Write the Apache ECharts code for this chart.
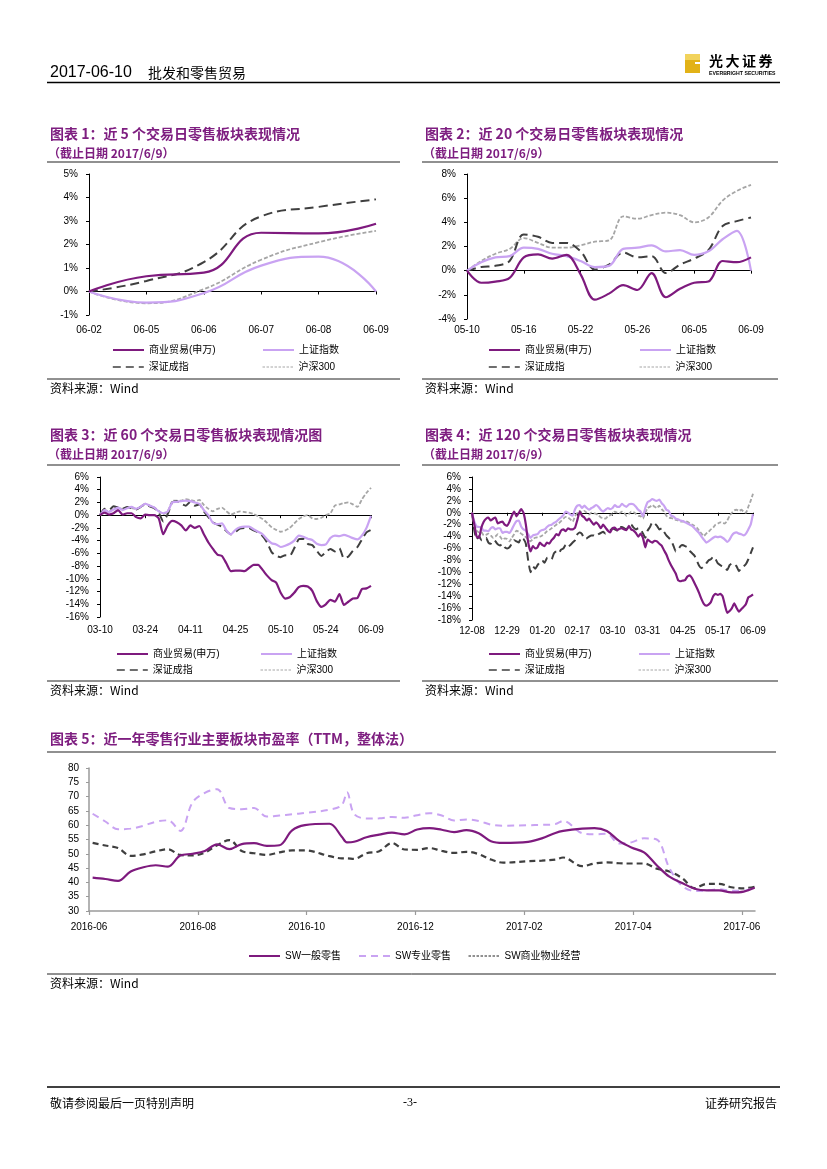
<!DOCTYPE html>
<html><head><meta charset="utf-8">
<script src="https://cdn.jsdelivr.net/npm/echarts@6/dist/echarts.min.js"></script>
<style>html,body{margin:0;padding:0;background:#fff}#c{width:827px;height:1169px}</style>
</head><body><div id="c"></div>
<script>
// ---------- DATA ----------
const tradeDates = ['12-08','12-09','12-12','12-13','12-14','12-15','12-16','12-19','12-20','12-21','12-22','12-23','12-26','12-27','12-28','12-29','12-30',
'01-03','01-04','01-05','01-06','01-09','01-10','01-11','01-12','01-13','01-16','01-17','01-18','01-19','01-20','01-23','01-24','01-25','01-26',
'02-03','02-06','02-07','02-08','02-09','02-10','02-13','02-14','02-15','02-16','02-17','02-20','02-21','02-22','02-23','02-24','02-27','02-28',
'03-01','03-02','03-03','03-06','03-07','03-08','03-09','03-10','03-13','03-14','03-15','03-16','03-17','03-20','03-21','03-22','03-23','03-24','03-27','03-28','03-29','03-30','03-31',
'04-05','04-06','04-07','04-10','04-11','04-12','04-13','04-14','04-17','04-18','04-19','04-20','04-21','04-24','04-25','04-26','04-27','04-28',
'05-02','05-03','05-04','05-05','05-08','05-09','05-10','05-11','05-12','05-15','05-16','05-17','05-18','05-19','05-22','05-23','05-24','05-25','05-26','05-31',
'06-01','06-02','06-05','06-06','06-07','06-08','06-09'];
const cat1 = tradeDates.slice(115);
const cat2 = tradeDates.slice(100);
const cat3 = tradeDates.slice(60);
const cat4 = tradeDates;

const seriesNames = ['商业贸易(申万)','上证指数','深证成指','沪深300'];

// chart 1 (5 days)
const c1Trade = [0, 0.65, 0.8, 2.5, 2.47, 2.88];
const c1Sh    = [0, -0.47, -0.07, 1.1, 1.48, 0];
const c1Sz    = [0, 0.45, 1.25, 3.2, 3.6, 3.92];
const c1Hs    = [0, -0.5, 0.1, 1.35, 2.1, 2.58];

// chart 2 (20 days)
const c2Trade = [0,-1.0,-0.9,-0.6,1.1,1.35,1.0,1.3,-0.3,-2.4,-1.9,-1.2,-1.6,-0.2,-2.2,-1.5,-1.0,-0.9,0.8,0.7,1.1];
const c2Sh    = [0,0.7,1.1,1.2,1.9,1.8,1.4,1.2,0.8,0.3,0.4,1.8,1.9,2.1,1.6,1.7,1.3,1.6,2.6,3.3,0];
const c2Sz    = [0,0.3,0.4,0.8,3.0,2.8,2.3,2.3,1.6,0.1,0.5,1.5,1.1,1.2,-0.2,0.5,1.0,1.7,3.7,4.1,4.4];
const c2Hs    = [0,0.8,1.4,1.8,2.7,2.3,1.9,1.9,2.1,2.4,2.5,4.5,4.3,4.6,4.8,4.6,4.0,4.4,5.8,6.6,7.1];

// chart 3 (60 days)
const c3Trade = [0,0.4,0.1,0.3,0.8,0.1,0.3,0.3,-0.3,-0.5,
0.1,0,0,-0.5,-3.0,-1.6,-0.9,-1.1,-1.6,-2.4,
-1.6,-2.0,-1.7,-3.0,-4.3,-5.3,-6.2,-6.4,-7.6,-8.8,
-8.7,-8.7,-8.8,-8.3,-7.8,-7.8,-8.6,-9.5,-10.2,-10.6,
-12.2,-13.1,-12.9,-12.2,-11.3,-11.1,-11.2,-11.9,-13.5,-14.4,
-14.0,-13.3,-13.6,-12.4,-14.1,-13.6,-13.1,-13.0,-11.6,-11.5,
-11.1];
const c3Sh = [0,0.8,0.5,0.9,1.2,0.8,1.1,1.3,1.0,1.3,
1.8,1.5,1.2,0.6,0.3,0.6,2.0,2.1,2.2,2.3,
2.2,2.0,1.8,0.8,0.0,-1.2,-1.4,-1.3,-2.4,-3.0,
-2.3,-1.9,-1.8,-1.8,-2.2,-2.6,-3.0,-3.8,-4.4,-4.6,
-5.0,-4.8,-4.5,-4.0,-3.2,-3.4,-3.7,-3.9,-4.5,-4.7,
-4.6,-3.6,-3.2,-3.3,-3.1,-3.3,-3.6,-3.8,-3.2,-2.0,
-0.1];
const c3Sz = [0,1.0,0.8,1.4,1.2,1.0,1.3,1.1,0.9,1.3,
1.7,1.4,1.1,0.4,-1.0,0.2,2.0,2.2,1.8,1.5,
2.1,1.5,1.7,0.6,-0.3,-1.1,-1.5,-1.8,-2.5,-3.0,
-2.6,-2.1,-2.0,-2.0,-2.4,-2.7,-3.3,-4.3,-5.8,-6.4,
-6.6,-6.3,-6.4,-5.2,-3.8,-3.7,-4.5,-4.7,-5.6,-6.4,
-5.8,-5.3,-5.7,-5.2,-6.8,-6.5,-5.6,-5.0,-3.8,-2.7,
-2.3];
const c3Hs = [0,0.8,0.6,1.0,1.3,0.9,1.2,1.1,1.0,1.3,
1.8,1.5,1.2,0.7,0.2,0.6,2.2,2.3,2.3,2.5,
2.4,2.2,2.4,1.6,1.0,0.6,1.0,1.2,0.6,0.1,
0.4,0.6,0.5,0.4,0.2,-0.2,-0.6,-1.2,-1.9,-2.3,
-2.6,-2.4,-2.0,-1.3,-0.6,-0.2,0.0,-0.5,-0.6,-0.4,
0.0,0.3,1.5,1.7,1.9,2.0,1.7,1.3,2.5,3.5,
4.3];

// chart 4 (120 days)
const c4Trade = [0,-2.0,-4.0,-4.2,-2.5,-1.5,-1.0,-0.8,-1.3,-1.0,
-0.8,-1.8,-1.6,-1.5,-2.0,-2.2,-1.5,-0.5,0.2,-0.6,
0.0,0.6,0.0,-2.0,-5.0,-6.5,-5.6,-6.0,-5.8,-5.0,
-5.4,-5.6,-5.0,-5.2,-4.6,-4.2,-3.6,-3.8,-3.0,-2.8,
-3.1,-2.6,-2.8,-2.8,-2.5,-1.2,0.2,-0.5,-0.8,-1.3,
-1.0,-1.5,-2.0,-1.6,-2.0,-2.6,-2.0,-2.5,-3.0,-3.3,
-2.6,-2.5,-2.9,-2.7,-2.6,-2.8,-2.9,-2.2,-2.8,-3.0,
-3.4,-4.0,-3.5,-4.2,-5.8,-4.5,-4.8,-5.0,-4.7,-4.8,
-5.2,-5.5,-6.3,-7.0,-8.0,-8.8,-9.5,-10.2,-11.3,-11.5,
-11.4,-11.3,-10.7,-10.5,-11.0,-11.8,-12.6,-13.5,-14.5,-15.3,
-15.6,-15.4,-15.0,-14.0,-13.6,-13.8,-13.6,-14.0,-15.5,-16.8,
-16.5,-16.0,-15.2,-16.0,-16.6,-16.2,-15.8,-15.3,-14.2,-14.0,
-13.7];
const c4Sh = [0,-1.5,-2.3,-2.4,-2.5,-3.0,-3.0,-3.1,-2.6,-2.4,
-2.8,-2.6,-2.6,-3.4,-3.2,-3.2,-3.4,-2.8,-2.0,-1.4,
-1.3,-2.3,-2.8,-3.0,-3.6,-4.2,-3.8,-3.7,-3.6,-3.1,
-2.9,-2.8,-2.4,-2.1,-2.0,-1.7,-1.5,-1.1,-0.8,-0.4,
0.2,0.0,-0.3,-0.5,0.6,1.2,1.3,0.8,1.2,0.8,
0.5,0.8,1.0,1.3,1.0,0.5,0.2,0.5,0.8,0.6,
0.8,1.3,1.0,1.0,1.5,1.2,1.0,1.4,1.5,1.4,
1.0,0.5,0.2,-0.6,0.8,1.8,2.0,2.3,2.1,2.0,
2.2,1.6,1.2,0.5,0.3,-0.5,-0.6,-1.0,-1.1,-1.3,
-1.4,-1.6,-1.8,-2.0,-2.2,-2.6,-3.0,-3.4,-4.0,-4.5,
-5.0,-4.8,-4.5,-4.2,-4.0,-4.1,-4.0,-4.2,-4.5,-4.9,
-4.5,-3.8,-3.4,-3.3,-3.5,-3.6,-3.8,-3.5,-2.8,-2.0,
-0.2];
const c4Sz = [0,-3.0,-4.5,-3.9,-4.6,-4.6,-4.2,-5.0,-5.2,-4.6,
-4.8,-5.3,-5.5,-5.2,-5.8,-6.0,-5.8,-5.2,-4.6,-4.8,
-5.0,-4.1,-4.4,-5.2,-8.0,-10.0,-9.0,-9.4,-8.8,-8.3,
-8.0,-8.4,-7.6,-7.5,-7.8,-6.8,-6.5,-6.8,-6.2,-6.0,
-5.4,-5.8,-5.4,-5.0,-4.6,-3.6,-3.3,-3.6,-4.4,-4.3,
-4.0,-3.8,-3.8,-4.0,-3.6,-3.4,-3.2,-3.5,-3.2,-3.0,
-2.6,-2.8,-3.0,-2.4,-2.4,-2.6,-2.8,-2.2,-2.0,-2.5,
-2.8,-2.6,-2.8,-3.5,-4.2,-3.0,-2.4,-1.6,-1.8,-2.2,
-2.8,-2.6,-3.2,-3.8,-4.2,-4.6,-5.5,-6.5,-6.2,-5.6,
-5.4,-5.6,-5.8,-6.4,-6.8,-7.2,-8.0,-8.9,-9.3,-9.0,
-8.5,-8.0,-7.8,-7.4,-7.8,-8.5,-8.8,-9.0,-9.3,-9.6,
-8.8,-8.5,-8.6,-9.0,-9.8,-9.3,-9.0,-8.6,-7.8,-6.8,
-5.8];
const c4Hs = [0,-1.8,-3.0,-3.3,-3.2,-3.8,-3.7,-3.5,-3.8,-4.2,
-4.0,-3.6,-4.0,-4.5,-4.3,-4.4,-4.8,-4.2,-3.6,-3.0,
-3.2,-3.5,-3.8,-4.1,-4.5,-4.8,-4.4,-4.2,-4.1,-4.0,
-3.8,-3.5,-3.1,-2.9,-2.6,-2.3,-2.0,-1.8,-1.4,-1.0,
-0.7,-0.8,-1.1,-1.5,-0.6,0.0,0.3,0.0,0.3,0.0,
-0.3,0.0,-0.1,-0.2,-0.4,-0.8,-0.9,-1.0,-0.6,-0.4,
-0.2,0.2,0.0,-0.1,0.2,0.0,-0.5,-0.2,0.2,0.1,
-0.2,-0.5,-0.6,-1.0,0.0,0.8,1.0,1.3,1.0,0.8,
1.2,0.6,0.2,-0.5,-0.8,-0.9,-1.0,-1.2,-1.3,-1.5,
-1.5,-1.4,-1.5,-1.8,-2.0,-2.2,-2.5,-3.0,-3.5,-3.9,
-3.5,-3.2,-2.8,-2.5,-2.0,-1.8,-1.6,-1.7,-1.8,-1.3,
-0.5,0.0,0.4,0.5,0.3,0.5,0.2,0.0,1.0,2.0,
3.2];

// chart 5 (PE TTM)
const peNames = ['SW一般零售','SW专业零售','SW商业物业经营'];
const peDates = ['2016-06-03','2016-06-10','2016-06-17','2016-06-24','2016-07-01','2016-07-08','2016-07-15','2016-07-22','2016-07-29',
'2016-08-05','2016-08-12','2016-08-19','2016-08-26','2016-09-02','2016-09-09','2016-09-16','2016-09-23','2016-09-30',
'2016-10-14','2016-10-21','2016-10-24','2016-10-28','2016-11-04','2016-11-11','2016-11-18','2016-11-25',
'2016-12-02','2016-12-09','2016-12-16','2016-12-23','2016-12-30','2017-01-06','2017-01-13','2017-01-20',
'2017-02-03','2017-02-10','2017-02-17','2017-02-21','2017-03-03','2017-03-10','2017-03-17','2017-03-24','2017-03-31',
'2017-04-07','2017-04-14','2017-04-21','2017-04-28','2017-05-05','2017-05-12','2017-05-19','2017-05-26','2017-06-02','2017-06-08'];
const peGeneral  = [41.7,41.2,40.5,43.8,45.3,46.0,45.5,49.4,50.0,51.0,53.3,51.6,53.4,53.7,52.8,53.0,58.2,60.0,
60.5,56.0,54.0,54.2,55.8,56.7,57.4,56.8,58.5,59.0,58.4,57.6,58.3,57.2,54.4,53.8,
54.2,55.4,57.3,58.0,58.8,59.0,58.0,54.5,52.2,50.5,46.0,42.0,39.8,37.8,37.2,37.2,36.5,36.8,38.1];
const peSpecial  = [64.0,61.3,58.6,58.8,59.8,61.2,61.7,58.0,68.0,71.3,72.6,66.0,65.6,66.0,63.0,63.4,63.8,64.3,
65.4,67.0,71.5,64.0,62.3,62.4,62.9,62.6,63.5,64.2,63.4,61.6,62.0,61.5,60.2,59.8,
60.0,60.1,60.4,61.5,57.2,56.8,57.0,53.6,54.0,55.4,55.0,45.0,38.8,37.0,37.2,37.6,37.1,37.1,38.3];
const peProperty = [53.8,52.9,52.0,49.3,49.8,50.9,51.6,49.6,49.4,50.4,53.0,54.8,51.0,50.2,49.6,50.5,51.2,51.2,
49.2,48.4,48.4,48.2,50.2,50.9,53.8,51.5,51.4,52.0,51.0,50.3,50.7,49.9,48.0,46.9,
47.4,47.6,48.0,48.7,45.7,46.6,47.0,46.7,46.6,46.6,44.8,43.8,41.5,38.0,39.5,39.5,38.3,37.9,38.5];
const peMonthTicks = [0,2,4,6,8,10,12];

// ---------- STYLES ----------
const PURPLE = '#7E1A7E', LILAC = '#C9A3F2', DARK = '#3F3F3F', GREY = '#A6A6A6', TITLE = '#7E1E80';
const LAT = '"Liberation Sans", Arial, "Noto Sans CJK SC"';
const CJK = '"Noto Sans CJK SC", "Liberation Sans"';
const ST = {
  trade: {color: PURPLE, width: 2.2, type: 'solid'},
  sh:    {color: LILAC,  width: 2.2, type: 'solid'},
  sz:    {color: DARK,   width: 2,   type: [9, 5]},
  hs:    {color: GREY,   width: 1.8, type: [4, 2]}
};

function monthPos(s) {
  const p = s.split('-').map(Number);
  const dim = new Date(p[0], p[1], 0).getDate();
  return (p[0] - 2016) * 12 + (p[1] - 6) + (p[2] - 1) / dim;
}

// grids in page pixels
const grids = [
  {left: 89,  top: 174, width: 287, height: 141},
  {left: 467, top: 174, width: 284, height: 145},
  {left: 100, top: 477, width: 271, height: 140},
  {left: 472, top: 477, width: 281, height: 143},
  {left: 89,  top: 768, width: 666, height: 143}
];

const xAxes = [], yAxes = [], series = [], legends = [];

function catAxes(gi, cats, interval, margin) {
  xAxes.push({gridIndex: gi, type: 'category', data: cats, boundaryGap: false, position: 'bottom',
    axisLine: {show: false, onZero: false}, axisTick: {show: false},
    axisLabel: {interval: interval, fontSize: 10, color: '#000', fontFamily: LAT, margin: margin}});
  xAxes.push({gridIndex: gi, type: 'category', data: cats, boundaryGap: false, position: 'bottom',
    axisLine: {show: true, onZero: true, lineStyle: {color: '#000', width: 1}},
    axisTick: {show: true, interval: interval, length: 3, lineStyle: {color: '#000'}},
    axisLabel: {show: false}});
  return xAxes.length - 2;
}
function yAx(gi, min, max, interval, pct, color, margin) {
  yAxes.push({gridIndex: gi, type: 'value', min: min, max: max, interval: interval,
    axisLine: {show: true, lineStyle: {color: color, width: 1}},
    axisTick: {show: true, length: 3, lineStyle: {color: color}},
    splitLine: {show: false},
    axisLabel: {formatter: pct ? '{value}%' : '{value}', fontSize: 10, color: '#000', fontFamily: LAT, margin: margin}});
  return yAxes.length - 1;
}
function mk(name, data, xi, yi, st, smooth) {
  series.push({type: 'line', name: name, data: data, xAxisIndex: xi, yAxisIndex: yi, symbol: 'none',
    smooth: smooth, lineStyle: {color: st.color, width: st.width, type: st.type}, itemStyle: {color: st.color}});
}
const HIDDEN_SYMBOL = {opacity: 0, color: 'rgba(0,0,0,0)', borderColor: 'rgba(0,0,0,0)', borderWidth: 0};
function legendItem(item, left, cy) {
  item.itemStyle = HIDDEN_SYMBOL;
  legends.push({data: [item], left: left, top: cy - 7, padding: 0, itemWidth: 31, itemHeight: 8,
    selectedMode: false, itemStyle: HIDDEN_SYMBOL,
    textStyle: {fontSize: 10, color: '#000', fontFamily: LAT}});
}
function legends4(l1, l2, cy1, cy2) {
  legendItem({name: seriesNames[0]}, l1, cy1);
  legendItem({name: seriesNames[1]}, l2, cy1);
  legendItem({name: seriesNames[2], lineStyle: {width: 1.6, type: [8, 5]}}, l1, cy2);
  legendItem({name: seriesNames[3], lineStyle: {width: 1, type: [2.5, 1.5]}}, l2, cy2);
}
function chartLines(cats, interval, margin, gi, ymin, ymax, yint, d, smooth) {
  const xi = catAxes(gi, cats, interval, margin);
  const yi = yAx(gi, ymin, ymax, yint, true, '#000', 11);
  mk(seriesNames[3], d[3], xi, yi, ST.hs, smooth);
  mk(seriesNames[2], d[2], xi, yi, ST.sz, smooth);
  mk(seriesNames[1], d[1], xi, yi, ST.sh, smooth);
  mk(seriesNames[0], d[0], xi, yi, ST.trade, smooth);
}

chartLines(cat1, 0, 10, 0, -1, 5, 1, [c1Trade, c1Sh, c1Sz, c1Hs], 0.5);
chartLines(cat2, 3, 6, 1, -4, 8, 2, [c2Trade, c2Sh, c2Sz, c2Hs], 0.35);
chartLines(cat3, 9, 8, 2, -16, 6, 2, [c3Trade, c3Sh, c3Sz, c3Hs], 0.2);
chartLines(cat4, 14, 6, 3, -18, 6, 2, [c4Trade, c4Sh, c4Sz, c4Hs], 0.15);
legends4(112, 262, 352, 369);
legends4(488, 639, 352, 369);
legends4(116, 260, 656, 672);
legends4(488, 638, 656, 672);

// chart 5
xAxes.push({gridIndex: 4, type: 'value', min: 0, max: 12.24,
  axisLine: {onZero: false, lineStyle: {color: '#9A9A9A', width: 1.5}},
  axisTick: {customValues: peMonthTicks, length: 4, lineStyle: {color: '#9A9A9A', width: 1.2}},
  splitLine: {show: false},
  axisLabel: {customValues: peMonthTicks, fontSize: 10, color: '#000', fontFamily: LAT, margin: 11,
    formatter: function (v) {
      const r = Math.round(v);
      if (Math.abs(v - r) > 1e-6 || r % 2) return '';
      const t = r + 5;
      return (2016 + Math.floor(t / 12)) + '-' + String(t % 12 + 1).padStart(2, '0');
    }}});
const x5 = xAxes.length - 1;
const y5 = yAx(4, 30, 80, 5, false, '#9A9A9A', 10);
yAxes[y5].axisLine.lineStyle.width = 1.5;
const peX = peDates.map(monthPos);
function pe(name, vals, st) {
  series.push({type: 'line', name: name, data: vals.map(function (v, i) { return [peX[i], v]; }),
    xAxisIndex: x5, yAxisIndex: y5, symbol: 'none', smooth: 0.35,
    lineStyle: {color: st.color, width: st.width, type: st.type}, itemStyle: {color: st.color}});
}
pe(peNames[2], peProperty, {color: DARK, width: 2.2, type: [6, 4]});
pe(peNames[1], peSpecial, {color: LILAC, width: 2, type: [7, 5]});
pe(peNames[0], peGeneral, {color: PURPLE, width: 2.2, type: 'solid'});
legendItem({name: peNames[0]}, 248, 958);
legendItem({name: peNames[1]}, 358, 958);
legendItem({name: peNames[2], lineStyle: {width: 1, type: [2.5, 1.5], color: '#222'}}, 468, 958);

// ---------- TEXT & RULES ----------
const G = [];
function txt(text, x, y, o) {
  G.push({type: 'text', silent: true, style: Object.assign({text: text, x: x, y: y, fill: '#000', fontSize: 12,
    fontFamily: CJK, align: 'left', verticalAlign: 'middle'}, o || {})});
}
function hl(x1, x2, y, w, c) {
  G.push({type: 'line', silent: true, shape: {x1: x1, y1: y, x2: x2, y2: y}, style: {stroke: c || '#000', lineWidth: w || 1}});
}
// header
txt('2017-06-10', 50, 73, {fontSize: 16, fontFamily: '"Liberation Sans Narrow", "Liberation Sans"'});
txt('批发和零售贸易', 148, 73, {fontSize: 14});
hl(47, 780, 82.5, 1.5);
// logo
G.push({type: 'rect', silent: true, shape: {x: 685, y: 54, width: 15, height: 19}, style: {fill: '#E2B217'}});
G.push({type: 'rect', silent: true, shape: {x: 685, y: 54, width: 15, height: 6}, style: {fill: '#F2D35C'}});
G.push({type: 'rect', silent: true, shape: {x: 695, y: 62, width: 5, height: 2}, style: {fill: '#fff'}});
['光', '大', '证', '券'].forEach(function (ch, i) {
  txt(ch, 709 + i * 16.5, 61, {fontSize: 14, fontWeight: 'bold'});
});
txt('EVERBRIGHT SECURITIES', 709, 74, {fontSize: 5.2, fontWeight: 'bold', fontFamily: LAT});

// chart titles
function block(x, x2, ty, title, sub, sepY, botY, srcY) {
  txt(title, x, ty, {fontSize: 14, fontWeight: 'bold', fill: TITLE});
  if (sub) txt(sub, x - 2, ty + 19, {fontSize: 12, fontWeight: 'bold', fill: TITLE});
  hl(x - 3, x2, sepY, 1.2, '#222');
  hl(x - 3, x2, botY, 1, '#222');
  txt('资料来源：Wind', x, srcY, {fontSize: 12});
}
block(50, 400, 134, '图表 1：近 5 个交易日零售板块表现情况', '（截止日期 2017/6/9）', 162, 379, 388);
block(425, 778, 134, '图表 2：近 20 个交易日零售板块表现情况', '（截止日期 2017/6/9）', 162, 379, 388);
block(50, 400, 435, '图表 3：近 60 个交易日零售板块表现情况图', '（截止日期 2017/6/9）', 465, 681, 690);
block(425, 778, 435, '图表 4：近 120 个交易日零售板块表现情况', '（截止日期 2017/6/9）', 465, 681, 690);
block(50, 776, 739, '图表 5：近一年零售行业主要板块市盈率（TTM，整体法）', null, 752, 974, 983);

// footer
hl(47, 780, 1087, 1.5);
txt('敬请参阅最后一页特别声明', 50, 1103, {fontSize: 12});
txt('-3-', 410, 1103, {fontSize: 12, align: 'center', fontFamily: '"Liberation Serif"'});
txt('证券研究报告', 777, 1103, {fontSize: 12, align: 'right'});

const chart = echarts.init(document.getElementById('c'), null, {renderer: 'canvas'});
chart.setOption({
  animation: false,
  backgroundColor: '#fff',
  grid: grids,
  xAxis: xAxes,
  yAxis: yAxes,
  legend: legends,
  series: series,
  graphic: G
});
</script></body></html>
